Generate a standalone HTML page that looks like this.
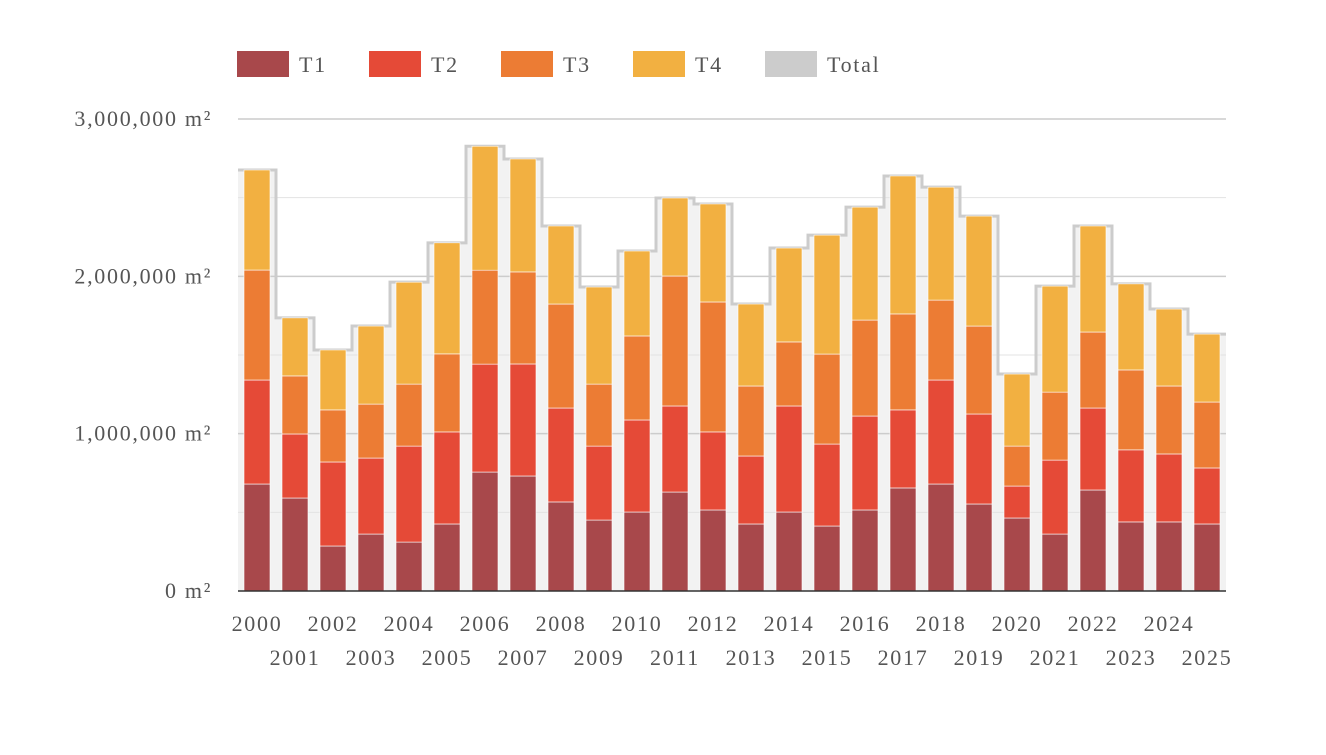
<!DOCTYPE html>
<html><head><meta charset="utf-8"><style>
body{margin:0;background:#fff;}
svg text{font-family:"Liberation Serif",serif;fill:#555;letter-spacing:1.7px;}
</style></head><body>
<svg id="c" width="1326" height="750"></svg>
<script>
const years=[2000,2001,2002,2003,2004,2005,2006,2007,2008,2009,2010,2011,2012,2013,2014,2015,2016,2017,2018,2019,2020,2021,2022,2023,2024,2025];
const t1=[680,591,286,362,311,426,756,731,566,451,502,629,515,426,502,413,515,655,680,553,464,362,642,439,439,426];
const t2=[661,407,534,483,610,585,686,712,597,470,585,547,496,432,674,521,597,496,661,572,203,470,521,458,432,356];
const t3=[699,369,331,343,394,496,597,585,661,394,534,826,826,445,407,572,610,610,508,559,254,432,483,508,432,419];
const t4=[636,369,381,496,648,706,788,718,496,617,540,496,623,521,597,756,718,877,718,699,458,674,674,547,489,432];
const yTicks=[0,1000000,2000000,3000000];
const yTickLabels=["0 m²","1,000,000 m²","2,000,000 m²","3,000,000 m²"];
const seriesNames=["T1","T2","T3","T4","Total"];
const colors=["#a8484b","#e54a37","#ec7c34","#f2b041","#cccccc"];
const NS="http://www.w3.org/2000/svg";
const svg=document.getElementById('c');
function el(t,a,p){const e=document.createElementNS(NS,t);for(const k in a)e.setAttribute(k,a[k]);(p||svg).appendChild(e);return e;}
const x0=238,x1=1226,y0=591,yTop=119;
const band=(x1-x0)/years.length, bw=26;
function y(v){return y0-(v/3000000)*(y0-yTop);}
function xb(i){return x0+i*band;}
const totals=years.map((_,i)=>(t1[i]+t2[i]+t3[i]+t4[i])*1000);
let d='M'+x0+','+y0;
totals.forEach((t,i)=>{d+=' L'+xb(i)+','+y(t)+' L'+xb(i+1)+','+y(t);});
const area=el('path',{d:d+' L'+x1+','+y0+' Z',fill:'#f2f2f2'});


for(let v=500000;v<3000000;v+=1000000){const g=el('line',{x1:x0,x2:x1,y1:y(v),y2:y(v),stroke:'#e3e3e3','stroke-width':1});

}
yTicks.forEach((v,k)=>{
 if(v>0){const g=el('line',{x1:x0,x2:x1,y1:y(v),y2:y(v),stroke:'#cccccc','stroke-width':1.5});
 
 }
 const t=el('text',{x:212,y:y(v)+7,'text-anchor':'end','font-size':22});t.textContent=yTickLabels[k];
 
 
});
let ld='M'+x0+','+y(totals[0]);
totals.forEach((t,i)=>{ld+=' L'+xb(i)+','+y(t)+' L'+xb(i+1)+','+y(t);});
const tl=el('path',{d:ld,fill:'none',stroke:'#cccccc','stroke-width':3});


const series=[t1,t2,t3,t4];
years.forEach((yr,i)=>{
 let acc=0;const cx=xb(i)+band/2;
 series.forEach((s,k)=>{
  const v=s[i]*1000;
  const r=el('rect',{x:cx-bw/2,y:y(acc+v),width:bw,height:y(acc)-y(acc+v),fill:colors[k],stroke:'#fff','stroke-width':0.6});
  
  
  acc+=v;
 });
 const t=el('text',{x:cx,y:i%2?665:631,'text-anchor':'middle','font-size':22});t.textContent=yr;
 
 
});
const base=el('line',{x1:x0,x2:x1,y1:y0,y2:y0,stroke:'#333','stroke-width':1.5});


seriesNames.forEach((n,k)=>{
 const lx=237+k*132;
 const g=el('g',{});
 
 
 el('rect',{x:lx,y:51,width:52,height:26,fill:colors[k]},g);
 const t=el('text',{x:lx+62,y:72,'font-size':22},g);t.textContent=n;
});
</script>
</body></html>
